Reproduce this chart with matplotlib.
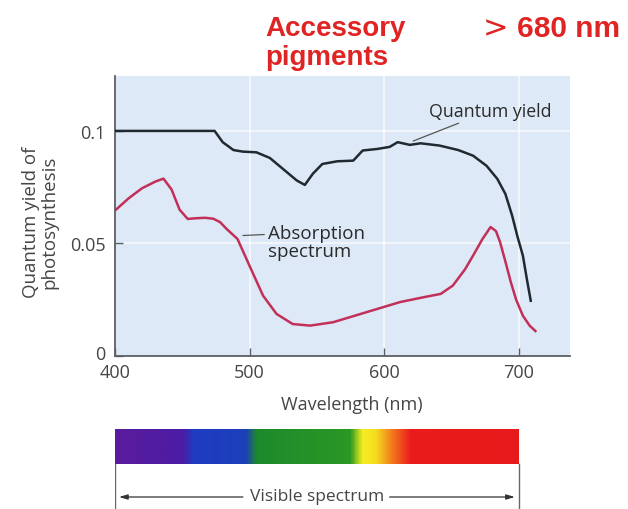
import numpy as np
import matplotlib
matplotlib.use("Agg")
import matplotlib.pyplot as plt
import matplotlib.transforms as mtransforms
from matplotlib.colors import LinearSegmentedColormap

# ---- data ----
qy_wl = [400, 420, 440, 460, 474, 480, 488, 495, 505, 515, 525, 535, 541, 547, 554, 565, 577,
         584, 595, 604, 610, 619, 627, 641, 655, 666, 676, 684, 690, 695, 699, 703, 706, 709]
qy_val = [0.100, 0.100, 0.100, 0.100, 0.100, 0.095, 0.0915, 0.0908, 0.0905, 0.088, 0.083, 0.078, 0.076,
          0.081, 0.0853, 0.0865, 0.0868, 0.0913, 0.0920, 0.0929, 0.0950, 0.0938, 0.0945, 0.0935,
          0.0915, 0.089, 0.0845, 0.0787, 0.072, 0.0624, 0.053, 0.0446, 0.034, 0.024]

ab_wl = [400, 410, 420, 430, 436, 442, 448, 454, 460, 467, 473, 478, 483, 491, 500, 510, 520,
         532, 545, 562, 587, 612, 630, 642, 651, 660, 666, 673, 679, 683, 686, 690, 694, 698,
         703, 708, 713]
ab_val = [0.0646, 0.0700, 0.0745, 0.0775, 0.0788, 0.0740, 0.0650, 0.0609, 0.0612, 0.0614, 0.0610,
          0.0595, 0.0564, 0.0520, 0.0400, 0.0268, 0.0187, 0.0142, 0.0135, 0.0150, 0.0195, 0.0240,
          0.0262, 0.0276, 0.0313, 0.0385, 0.0446, 0.0520, 0.0573, 0.0555, 0.0507, 0.0420, 0.0329,
          0.0250, 0.0179, 0.0135, 0.0107]

x_ticks = [400, 500, 600, 700]
y_ticks = [0, 0.05, 0.1]
y_tick_labels = ["0", "0.05", "0.1"]

spec_wl = [400, 450, 458, 497, 505, 575, 584, 594, 606, 620, 700]
spec_col = ["#5a1c9c", "#4c1ca6", "#1f3cc2", "#1c40ba", "#1d8a2c", "#2a9824", "#f6ee22",
            "#f5dc20", "#f37a1e", "#ea1c1c", "#e61a1a"]

plt.rcParams["font.family"] = ["Open Sans", "DejaVu Sans"]
txt = "#454545"

# ---- figure ----
W, H = 628, 510
fig = plt.figure(figsize=(W / 100, H / 100), dpi=100)
fig.patch.set_facecolor("white")

def fx(px):
    return px / W

def fy(py):
    return 1 - py / H

ax = fig.add_axes([fx(115), fy(357), fx(570) - fx(115), fy(77) - fy(357)])
ax.set_facecolor("#dde9f6")
ax.set_xlim(400, 738)
ax.set_ylim(0, 0.1244)
for v in [500, 600, 700]:
    ax.axvline(v, color="white", lw=1.2, alpha=0.75, zorder=1)
for v in [0.05, 0.1]:
    ax.axhline(v, color="white", lw=1.2, alpha=0.75, zorder=1)

ax.plot(qy_wl, qy_val, color="#1f2a30", lw=1.8, zorder=3, solid_capstyle="butt")
ax.plot(ab_wl, ab_val, color="#c2305a", lw=1.8, zorder=3, solid_capstyle="butt")

for s in ["top", "right"]:
    ax.spines[s].set_visible(False)
for s in ["left", "bottom"]:
    ax.spines[s].set_color("#5a5f63")
    ax.spines[s].set_linewidth(1.3)
ax.set_xticks(x_ticks)
ax.set_yticks(y_ticks)
ax.set_yticklabels(y_tick_labels)
ax.tick_params(direction="in", length=6, width=1.0, color="#5a5f63", labelsize=13,
               labelcolor=txt)
ax.tick_params(axis="x", pad=5)
ax.tick_params(axis="y", pad=7)
# lift the "0" label a little, as in the original
lbl0 = ax.get_yticklabels()[0]
lbl0.set_transform(lbl0.get_transform() + mtransforms.ScaledTranslation(0, 4 / 100, fig.dpi_scale_trans))

ax.set_xlabel("Wavelength (nm)", fontsize=13, color=txt, va="center")
ax.xaxis.set_label_coords((352 - 115) / 455, -(405 - 357) / 280)
ax.set_ylabel("Quantum yield of\nphotosynthesis", fontsize=13.5, color=txt,
              linespacing=1.0, va="center", ha="center")
ax.yaxis.set_label_coords(-(115 - 40) / 455, (357 - 222) / 280)

ax.annotate("Quantum yield", xy=(621.5, 0.0955), xytext=(633, 0.1089), fontsize=12.8,
            color="#2a2a2a", ha="left", va="center",
            arrowprops=dict(arrowstyle="-", color="#555", lw=0.9, shrinkA=1, shrinkB=0))
ax.annotate("Absorption\nspectrum", xy=(494, 0.0535), xytext=(514, 0.0506), fontsize=13.5,
            color="#2a2a2a", ha="left", va="center", linespacing=0.95,
            arrowprops=dict(arrowstyle="-", color="#555", lw=0.9, shrinkA=1, shrinkB=1,
                            relpos=(0, 0.72)))

# ---- spectrum bar ----
sax = fig.add_axes([fx(115), fy(510), fx(570) - fx(115), fy(430) - fy(510)])
sax.set_xlim(400, 738)
sax.set_ylim(0, 80)
sax.axis("off")
pos = [(w - spec_wl[0]) / (spec_wl[-1] - spec_wl[0]) for w in spec_wl]
cmap = LinearSegmentedColormap.from_list("vis", list(zip(pos, spec_col)))
grad = np.linspace(0, 1, 600).reshape(1, -1)
sax.imshow(grad, cmap=cmap, aspect="auto", extent=[400, 700, 45, 80], zorder=2)
sax.plot([400, 400], [0, 45], color="#666", lw=1.0)
sax.plot([700, 700], [0, 45], color="#666", lw=1.0)
sax.annotate("", xy=(403, 12), xytext=(495, 12),
             arrowprops=dict(arrowstyle="-|>,head_length=0.5,head_width=0.15", color="#333", lw=0.9,
                             shrinkA=0, shrinkB=0))
sax.annotate("", xy=(697, 12), xytext=(604, 12),
             arrowprops=dict(arrowstyle="-|>,head_length=0.5,head_width=0.15", color="#333", lw=0.9,
                             shrinkA=0, shrinkB=0))
sax.text(550, 13, "Visible spectrum", fontsize=12.5, color=txt, ha="center", va="center")

# ---- red headings ----
red = "#e02424"
fam = ["Liberation Sans Narrow", "Liberation Sans", "DejaVu Sans"]
fig.text(fx(265), fy(36), "Accessory", fontsize=20, fontweight="bold", color=red,
         family=fam, ha="left", va="baseline")
fig.text(fx(265), fy(65), "pigments", fontsize=20, fontweight="bold", color=red,
         family=fam, ha="left", va="baseline")
fig.text(fx(483), fy(37), ">", fontsize=22, fontweight="normal", color=red,
         family=["DejaVu Sans"], ha="left", va="baseline")
fig.text(fx(517), fy(37), "680 nm", fontsize=21.5, fontweight="bold", color=red,
         family=fam, ha="left", va="baseline")

fig.savefig("out.png", dpi=100)
